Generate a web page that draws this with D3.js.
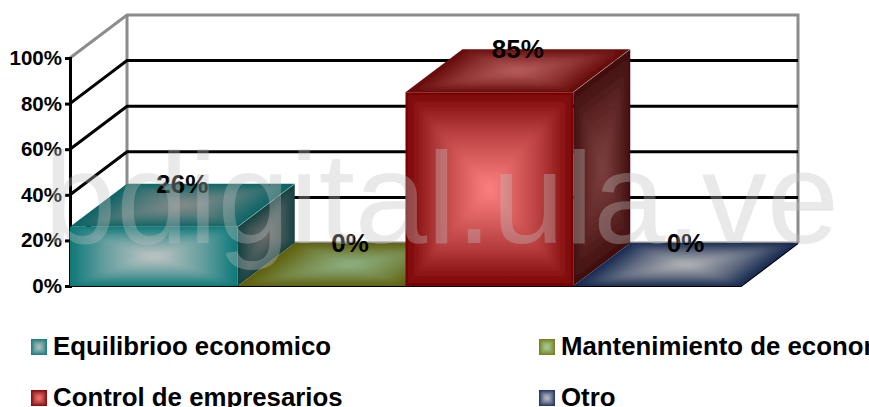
<!DOCTYPE html>
<html>
<head>
<meta charset="utf-8">
<script src="https://cdn.jsdelivr.net/npm/d3@7"></script>
<style>
  html, body { margin: 0; padding: 0; background: #fff; overflow: hidden; }
  text { font-family: "Liberation Sans", Arial, sans-serif; }
</style>
</head>
<body>
<div id="chart"></div>
<script>
const categories = ["Equilibrioo economico", "Mantenimiento de economia", "Control de empresarios", "Otro"];
const values = [26, 0, 85, 0];
const tickValues = [0, 20, 40, 60, 80, 100];

// edge / centre colours of each face
const frontEdge = ["#0a7878", "#77770f", "#780202", "#14285c"];
const frontMid = ["#c6c6c6", "#a8d8a8", "#ff8282", "#cccccc"];
const topEdge = ["#0a6464", "#5e5e08", "#640808", "#142850"];
const topMid = ["#8c8c8c", "#8fb487", "#bb6060", "#bababa"];
const sideEdge = ["#123f3f", "#3d3d08", "#3f0d0d", "#0a1530"];
const sideMid = ["#6e6e6e", "#5e7e5e", "#7e4040", "#707070"];

const width = 869;
const height = 407;
const depthX = 57;
const depthY = 43;

const svg = d3.select("#chart").append("svg")
  .attr("width", width)
  .attr("height", height)
  .style("display", "block");

const defs = svg.append("defs");

const blurBig = defs.append("filter").attr("id", "blurBig");
blurBig.append("feGaussianBlur").attr("stdDeviation", 2.5);
const blurSmall = defs.append("filter").attr("id", "blurSmall");
blurSmall.append("feGaussianBlur").attr("stdDeviation", 1);

const x = d3.scaleBand().domain(categories).range([70, 741]);
const y = d3.scaleLinear().domain([0, 100]).range([286, 58]);

let gradId = 0;

// path style gradient: one triangle per edge, dark on the edge, light in the middle
const shadedFace = (parent, pts, edge, mid, blur) => {
  const clipId = "clip" + gradId++;
  defs.append("clipPath").attr("id", clipId)
    .append("polygon").attr("points", pts.join(" "));
  const g = parent.append("g")
    .attr("clip-path", "url(#" + clipId + ")")
    .append("g")
    .attr("filter", "url(#" + blur + ")");
  g.append("polygon")
    .attr("points", pts.join(" "))
    .attr("fill", edge)
    .attr("stroke", edge)
    .attr("stroke-width", 16);
  const cx = d3.mean(pts, (p) => p[0]);
  const cy = d3.mean(pts, (p) => p[1]);
  pts.forEach((a, i) => {
    const b = pts[(i + 1) % pts.length];
    const ex = b[0] - a[0];
    const ey = b[1] - a[1];
    const t = ((cx - a[0]) * ex + (cy - a[1]) * ey) / (ex * ex + ey * ey);
    const id = "grad" + gradId++;
    const grad = defs.append("linearGradient")
      .attr("id", id)
      .attr("gradientUnits", "userSpaceOnUse")
      .attr("x1", a[0] + t * ex)
      .attr("y1", a[1] + t * ey)
      .attr("x2", cx)
      .attr("y2", cy);
    grad.append("stop").attr("offset", "0%").attr("stop-color", edge);
    grad.append("stop").attr("offset", "40%").attr("stop-color", d3.interpolateRgb(edge, mid)(0.47));
    grad.append("stop").attr("offset", "100%").attr("stop-color", mid);
    g.append("polygon")
      .attr("points", [a, b, [cx, cy]].join(" "))
      .attr("fill", "url(#" + id + ")")
      .attr("stroke", "url(#" + id + ")")
      .attr("stroke-width", 0.6);
  });
};

// back wall
const wallTop = y(100) - depthY;
const wallBottom = y(0) - depthY;
const wallLeft = x.range()[0] + depthX;
const wallRight = x.range()[1] + depthX;

svg.append("path")
  .attr("d", `M${x.range()[0]},${y(100)}L${wallLeft},${wallTop}L${wallRight},${wallTop}L${wallRight},${wallBottom}`)
  .attr("fill", "none")
  .attr("stroke", "#8c8c8c")
  .attr("stroke-width", 3);
svg.append("path")
  .attr("d", `M${wallLeft},${wallTop}L${wallLeft},${wallBottom}L${wallRight},${wallBottom}`)
  .attr("fill", "none")
  .attr("stroke", "#8c8c8c")
  .attr("stroke-width", 3);

// gridlines
svg.append("g")
  .selectAll("path")
  .data(tickValues.filter((d) => d > 0 && d < 100))
  .enter()
  .append("path")
  .attr("d", (d) => `M${x.range()[0]},${y(d)}L${wallLeft},${y(d) - depthY}L${wallRight},${y(d) - depthY}`)
  .attr("fill", "none")
  .attr("stroke", "#000")
  .attr("stroke-width", 3);

// axis
const yAxis = svg.append("g")
  .attr("transform", `translate(${x.range()[0]},0)`)
  .call(d3.axisLeft(y).tickValues(tickValues).tickFormat((d) => d + "%").tickSize(5).tickPadding(3));
yAxis.selectAll("path, line").attr("stroke", "#000").attr("stroke-width", 3);
yAxis.selectAll("text")
  .attr("fill", "#000")
  .attr("font-size", 20.5)
  .attr("font-weight", "bold");

// floor line
svg.append("path")
  .attr("d", `M${x.range()[0]},${y(0)}L${x.range()[1]},${y(0)}L${wallRight},${wallBottom}`)
  .attr("fill", "none")
  .attr("stroke", "#000")
  .attr("stroke-width", 2);

// bars
categories.forEach((c, i) => {
  const g = svg.append("g");
  const x0 = x(c);
  const x1 = x0 + x.bandwidth();
  const yTop = y(values[i]);
  const yBase = y(0);
  if (values[i] > 0) {
    shadedFace(g, [[x1, yBase], [x1 + depthX, yBase - depthY], [x1 + depthX, yTop - depthY], [x1, yTop]], sideEdge[i], sideMid[i], "blurBig");
    shadedFace(g, [[x0, yTop], [x1, yTop], [x1, yBase], [x0, yBase]], frontEdge[i], frontMid[i], "blurBig");
  }
  shadedFace(g, [[x0, yTop], [x0 + depthX, yTop - depthY], [x1 + depthX, yTop - depthY], [x1, yTop]], topEdge[i], topMid[i], "blurBig");
  if (values[i] > 0) {
    g.append("line")
      .attr("x1", x1)
      .attr("y1", yTop)
      .attr("x2", x1 + depthX)
      .attr("y2", yTop - depthY)
      .attr("stroke", "#fff")
      .attr("stroke-opacity", 0.35);
  }
});

// data labels
svg.append("g")
  .selectAll("text")
  .data(categories)
  .enter()
  .append("text")
  .attr("x", (d) => x(d) + x.bandwidth() / 2 + depthX / 2)
  .attr("y", (d, i) => y(values[i]) - depthY + 9)
  .attr("text-anchor", "middle")
  .attr("font-size", 26)
  .attr("font-weight", "bold")
  .attr("fill", "#000")
  .text((d, i) => values[i] + "%");

// legend
const legendX = [31, 539];
const legendY = [347, 398];
categories.forEach((c, i) => {
  const lx = legendX[i % 2];
  const ly = legendY[Math.floor(i / 2)];
  const g = svg.append("g");
  shadedFace(g, [[lx, ly - 8], [lx + 16, ly - 8], [lx + 16, ly + 8], [lx, ly + 8]], frontEdge[i], frontMid[i], "blurSmall");
  svg.append("text")
    .attr("x", lx + 22)
    .attr("y", ly + 8)
    .attr("font-size", 25.8)
    .attr("font-weight", "bold")
    .attr("fill", "#000")
    .text(c);
});

// watermark
svg.append("text")
  .attr("x", 44)
  .attr("y", 243)
  .attr("font-size", 130)
  .attr("fill", "#c0c0c0")
  .attr("fill-opacity", 0.35)
  .text("bdigital.ula.ve");
</script>
</body>
</html>
